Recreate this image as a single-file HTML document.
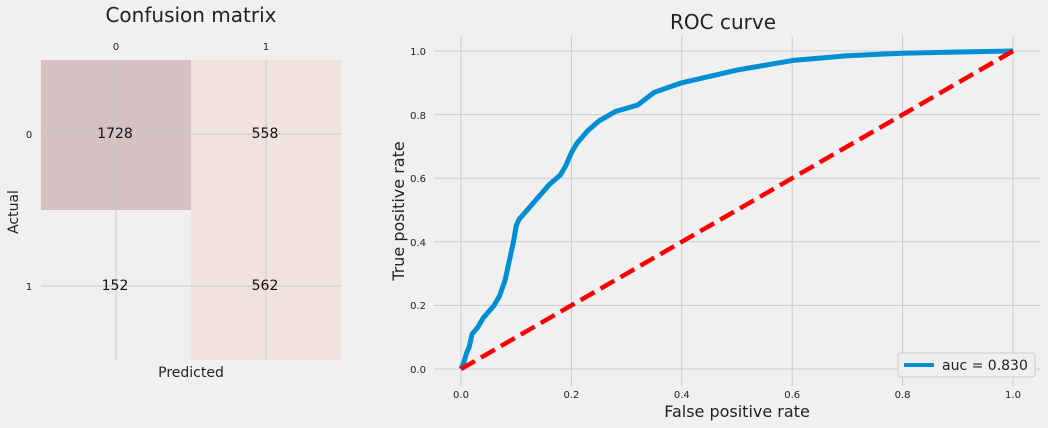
<!DOCTYPE html>
<html><head><meta charset="utf-8"><style>
body{margin:0;background:#f0f0f0;}
svg{display:block;font-family:"DejaVu Sans","Liberation Sans",sans-serif;}
</style></head><body>
<svg width="1048" height="428" viewBox="0 0 1048 428">
<rect width="1048" height="428" fill="#f0f0f0"/>
<!-- Confusion matrix -->
<text x="191" y="22" font-size="20" text-anchor="middle" fill="#222">Confusion matrix</text>
<rect x="41" y="60" width="150" height="150" fill="#d5c0c3"/>
<rect x="191" y="60" width="150" height="300" fill="#f0e2df"/>
<rect x="41" y="210" width="150" height="150" fill="#f1eeef"/>
<g stroke="#cbcbcb" stroke-width="1">
<line x1="116" y1="60" x2="116" y2="360"/><line x1="266" y1="60" x2="266" y2="360"/>
<line x1="41" y1="134" x2="341" y2="134"/><line x1="41" y1="286" x2="341" y2="286"/>
</g>
<g font-size="10" fill="#222" text-anchor="middle">
<text x="116" y="50">0</text><text x="266" y="50">1</text>
<text x="29" y="138">0</text><text x="29" y="290">1</text>
</g>
<g font-size="14" fill="#111" text-anchor="middle">
<text x="115" y="138">1728</text><text x="265" y="138">558</text>
<text x="115" y="290">152</text><text x="265" y="290">562</text>
</g>
<text x="191" y="377" font-size="14" text-anchor="middle" fill="#222">Predicted</text>
<text transform="translate(18,212) rotate(-90)" font-size="14" text-anchor="middle" fill="#222">Actual</text>
<!-- ROC -->
<text x="723" y="29" font-size="20" text-anchor="middle" fill="#222">ROC curve</text>
<g stroke="#cbcbcb" stroke-width="1">
<line x1="461" y1="36" x2="461" y2="386"/><line x1="571.4" y1="36" x2="571.4" y2="386"/>
<line x1="681.8" y1="36" x2="681.8" y2="386"/><line x1="792.2" y1="36" x2="792.2" y2="386"/>
<line x1="902.6" y1="36" x2="902.6" y2="386"/><line x1="1013" y1="36" x2="1013" y2="386"/>
<line x1="434" y1="369" x2="1040" y2="369"/><line x1="434" y1="305.4" x2="1040" y2="305.4"/>
<line x1="434" y1="241.8" x2="1040" y2="241.8"/><line x1="434" y1="178.2" x2="1040" y2="178.2"/>
<line x1="434" y1="114.6" x2="1040" y2="114.6"/><line x1="434" y1="51" x2="1040" y2="51"/>
</g>
<g font-size="10" fill="#222" text-anchor="middle">
<text x="461" y="398">0.0</text><text x="571.4" y="398">0.2</text><text x="681.8" y="398">0.4</text>
<text x="792.2" y="398">0.6</text><text x="902.6" y="398">0.8</text><text x="1013" y="398">1.0</text>
</g>
<g font-size="10" fill="#222" text-anchor="end">
<text x="426" y="373">0.0</text><text x="426" y="309">0.2</text><text x="426" y="246">0.4</text>
<text x="426" y="182">0.6</text><text x="426" y="119">0.8</text><text x="426" y="55">1.0</text>
</g>
<text x="737" y="417" font-size="16" text-anchor="middle" fill="#222">False positive rate</text>
<text transform="translate(404,211) rotate(-90)" font-size="16" text-anchor="middle" fill="#222">True positive rate</text>
<g transform="translate(461,369) scale(552,-318)">
<polyline fill="none" stroke="#008fd5" stroke-width="5" vector-effect="non-scaling-stroke" stroke-linejoin="round"
points="0,0 0.005,0.02 0.01,0.05 0.015,0.07 0.02,0.11 0.03,0.13 0.04,0.16 0.05,0.18 0.06,0.2 0.07,0.23 0.08,0.28 0.09,0.36 0.095,0.4 0.1,0.45 0.105,0.47 0.12,0.5 0.14,0.54 0.16,0.58 0.18,0.61 0.19,0.64 0.2,0.68 0.21,0.71 0.23,0.75 0.25,0.78 0.28,0.81 0.3,0.82 0.32,0.83 0.35,0.87 0.4,0.9 0.45,0.92 0.5,0.94 0.55,0.955 0.6,0.97 0.7,0.985 0.8,0.993 0.9,0.997 1,1"/>
<line x1="0" y1="0" x2="1" y2="1" stroke="#ff0000" stroke-width="4.5" stroke-dasharray="16,7" vector-effect="non-scaling-stroke"/>
</g>
<rect x="898" y="353" width="137" height="24" rx="3" fill="#f0f0f0" stroke="#cccccc"/>
<line x1="904" y1="365" x2="934" y2="365" stroke="#008fd5" stroke-width="4"/>
<text x="942" y="370" font-size="14" fill="#222">auc = 0.830</text>
</svg>
</body></html>
